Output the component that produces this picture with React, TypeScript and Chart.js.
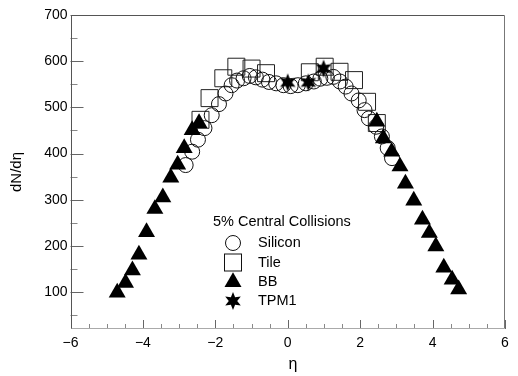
import React, { useEffect, useRef } from "react";
import { Chart, registerables } from "chart.js";

Chart.register(...registerables);

// ---- Data ----
const siliconEta = [-2.82, -2.64, -2.48, -2.3, -2.1, -1.9, -1.72, -1.55, -1.4, -1.22, -1.05, -0.88, -0.7, -0.52, -0.32, -0.12, 0.08, 0.28, 0.5, 0.72, 0.9, 1.08, 1.26, 1.44, 1.6, 1.76, 1.96, 2.12, 2.24, 2.44, 2.6, 2.76, 2.88];
const siliconVal = [375, 404, 430, 455, 483, 507, 530, 548, 558, 563, 568, 565, 560, 555, 552, 548, 546, 548, 552, 556, 562, 564, 566, 556, 545, 530, 515, 494, 476, 458, 437, 412, 390];

const tileEta = [-2.41, -2.16, -1.78, -1.42, -1.0, -0.6, 0.61, 1.02, 1.43, 1.83, 2.19, 2.46];
const tileVal = [473, 520, 563, 588, 584, 574, 576, 588, 577, 559, 512, 466];

const bbEta = [-4.71, -4.48, -4.29, -4.11, -3.9, -3.67, -3.45, -3.23, -3.04, -2.86, -2.64, -2.45, 2.46, 2.64, 2.87, 3.1, 3.25, 3.48, 3.72, 3.91, 4.09, 4.31, 4.54, 4.72];
const bbVal = [99, 120, 147, 181, 230, 280, 305, 348, 376, 412, 451, 466, 469, 433, 404, 372, 335, 298, 257, 228, 199, 153, 127, 106];

const tpmEta = [0, 0.57, 0.99];
const tpmVal = [554, 554, 584];

const yTickValues = [100, 200, 300, 400, 500, 600, 700];
const legendTitle = "5% Central Collisions";
const legendLabels = ["Silicon", "Tile", "BB", "TPM1"];
const xTitle = "η";
const yTitle = "dN/dη";

const FONT = "'Liberation Sans', Arial, Helvetica, sans-serif";

function pts(xs: number[], ys: number[]) {
  return xs.map((x, i) => ({ x, y: ys[i] }));
}

function drawStarPath(ctx: CanvasRenderingContext2D, cx: number, cy: number, ro: number, ri: number) {
  ctx.beginPath();
  const n = 6;
  for (let i = 0; i < n * 2; i++) {
    const r = i % 2 === 0 ? ro : ri;
    const a = -Math.PI / 2 + (i * Math.PI) / n;
    const x = cx + Math.cos(a) * r;
    const y = cy + Math.sin(a) * r;
    if (i === 0) ctx.moveTo(x, y);
    else ctx.lineTo(x, y);
  }
  ctx.closePath();
}

function makeStar(): HTMLCanvasElement {
  const c = document.createElement("canvas");
  c.width = 20;
  c.height = 20;
  const g = c.getContext("2d")!;
  g.fillStyle = "#000";
  drawStarPath(g, 10, 10, 9, 4.2);
  g.fill();
  return c;
}

function drawMarker(ctx: CanvasRenderingContext2D, kind: number, x: number, y: number) {
  ctx.save();
  ctx.lineWidth = 1;
  ctx.strokeStyle = "#111";
  ctx.fillStyle = "#000";
  if (kind === 0) {
    ctx.beginPath();
    ctx.arc(x, y, 7.5, 0, Math.PI * 2);
    ctx.stroke();
  } else if (kind === 1) {
    ctx.strokeRect(x - 8.5, y - 8.5, 17, 17);
  } else if (kind === 2) {
    const r = 9.8;
    ctx.beginPath();
    ctx.moveTo(x, y - r);
    ctx.lineTo(x + r * Math.sin((2 * Math.PI) / 3), y - r * Math.cos((2 * Math.PI) / 3));
    ctx.lineTo(x + r * Math.sin((4 * Math.PI) / 3), y - r * Math.cos((4 * Math.PI) / 3));
    ctx.closePath();
    ctx.fill();
  } else {
    drawStarPath(ctx, x, y, 9, 4.2);
    ctx.fill();
  }
  ctx.restore();
}

const framePlugin = {
  id: "frameTicks",
  beforeDatasetsDraw(chart: any) {
    const { ctx, chartArea: a, scales } = chart;
    const xs = scales.x;
    const ys = scales.y;
    ctx.save();
    ctx.lineWidth = 1;
    for (let v = 50; v <= 700; v += 50) {
      const py = Math.round(ys.getPixelForValue(v)) + 0.5;
      const len = v % 100 === 0 ? 13 : 7;
      ctx.strokeStyle = v % 100 === 0 ? "#666" : "#888";
      ctx.beginPath();
      ctx.moveTo(a.left, py);
      ctx.lineTo(a.left + len, py);
      ctx.stroke();
    }
    for (let i = -12; i <= 12; i++) {
      const v = i / 2;
      const px = Math.round(xs.getPixelForValue(v)) + 0.5;
      const len = i % 4 === 0 ? 9 : 5;
      ctx.strokeStyle = i % 4 === 0 ? "#666" : "#888";
      ctx.beginPath();
      ctx.moveTo(px, a.bottom);
      ctx.lineTo(px, a.bottom - len);
      ctx.stroke();
    }
    const l = Math.round(a.left) + 0.5;
    const r = Math.round(a.right) - 0.5;
    const t = Math.round(a.top) + 0.5;
    const b = Math.round(a.bottom) - 0.5;
    ctx.strokeStyle = "#555";
    ctx.beginPath();
    ctx.moveTo(l, b);
    ctx.lineTo(l, t);
    ctx.lineTo(r, t);
    ctx.stroke();
    ctx.strokeStyle = "#777";
    ctx.beginPath();
    ctx.moveTo(r, t);
    ctx.lineTo(r, b);
    ctx.stroke();
    ctx.strokeStyle = "#aaa";
    ctx.beginPath();
    ctx.moveTo(l, b);
    ctx.lineTo(r, b);
    ctx.stroke();
    ctx.restore();
  },
  afterDraw(chart: any) {
    const { ctx } = chart;
    ctx.save();
    ctx.fillStyle = "#000";
    ctx.font = `15px ${FONT}`;
    ctx.textAlign = "center";
    ctx.textBaseline = "middle";
    ctx.save();
    ctx.translate(17, 172);
    ctx.rotate(-Math.PI / 2);
    ctx.fillText(yTitle, 0, 0);
    ctx.restore();
    ctx.font = `16px ${FONT}`;
    ctx.fillText(xTitle, 293, 365);
    ctx.font = `14.5px ${FONT}`;
    ctx.textAlign = "left";
    ctx.fillText(legendTitle, 213, 222);
    const rows = [243, 262.5, 282, 301];
    legendLabels.forEach((lab, i) => {
      drawMarker(ctx, i, 233, rows[i]);
      ctx.fillStyle = "#000";
      ctx.font = `14.5px ${FONT}`;
      ctx.textAlign = "left";
      ctx.textBaseline = "middle";
      ctx.fillText(lab, 258, rows[i]);
    });
    ctx.restore();
  },
};

export default function App() {
  const ref = useRef<HTMLCanvasElement>(null);
  useEffect(() => {
    const canvas = ref.current!;
    const star = makeStar();
    const chart = new Chart(canvas, {
      type: "scatter",
      data: {
        datasets: [
          {
            label: legendLabels[0],
            data: pts(siliconEta, siliconVal),
            pointStyle: "circle",
            pointRadius: 7.5,
            pointBorderWidth: 1,
            borderColor: "#111",
            backgroundColor: "rgba(0,0,0,0)",
            order: 2,
          },
          {
            label: legendLabels[1],
            data: pts(tileEta, tileVal),
            pointStyle: "rect",
            pointRadius: 12,
            pointBorderWidth: 1,
            borderColor: "#222",
            backgroundColor: "rgba(0,0,0,0)",
            order: 3,
          },
          {
            label: legendLabels[2],
            data: pts(bbEta, bbVal),
            pointStyle: "triangle",
            pointRadius: 9.8,
            pointBorderWidth: 0,
            borderColor: "#000",
            backgroundColor: "#000",
            order: 1,
          },
          {
            label: legendLabels[3],
            data: pts(tpmEta, tpmVal),
            pointStyle: star as any,
            pointRadius: 9,
            borderColor: "#000",
            backgroundColor: "#000",
            order: 0,
          },
        ],
      },
      options: {
        animation: false,
        responsive: false,
        devicePixelRatio: 1,
        layout: { padding: { top: 15, right: 3, left: 0, bottom: 0 } },
        plugins: { legend: { display: false }, tooltip: { enabled: false } },
        scales: {
          x: {
            type: "linear",
            min: -6,
            max: 6,
            grid: { display: false, drawTicks: false },
            border: { display: false },
            ticks: {
              stepSize: 2,
              padding: 6,
              color: "#000",
              font: { family: FONT, size: 14 },
              maxRotation: 0,
              callback: (v: any) => String(v).replace("-", "\u2212"),
            },
            afterFit: (s: any) => {
              s.height = 47;
              s.paddingLeft = 0;
              s.paddingRight = 0;
            },
          },
          y: {
            type: "linear",
            min: 20,
            max: 700,
            grid: { display: false, drawTicks: false },
            border: { display: false },
            afterBuildTicks: (s: any) => {
              s.ticks = yTickValues.map((v) => ({ value: v }));
            },
            ticks: {
              padding: 3,
              color: "#000",
              font: { family: FONT, size: 14 },
              callback: (v: any) => String(v),
            },
            afterFit: (s: any) => {
              s.width = 70.5;
              s.paddingTop = 0;
              s.paddingBottom = 0;
            },
          },
        },
      },
      plugins: [framePlugin],
    } as any);
    return () => chart.destroy();
  }, []);
  return (
    <div style={{ position: "absolute", left: 0, top: 0, width: 518, height: 376, background: "#fff" }}>
      <canvas ref={ref} width={518} height={376} style={{ display: "block" }} />
    </div>
  );
}
